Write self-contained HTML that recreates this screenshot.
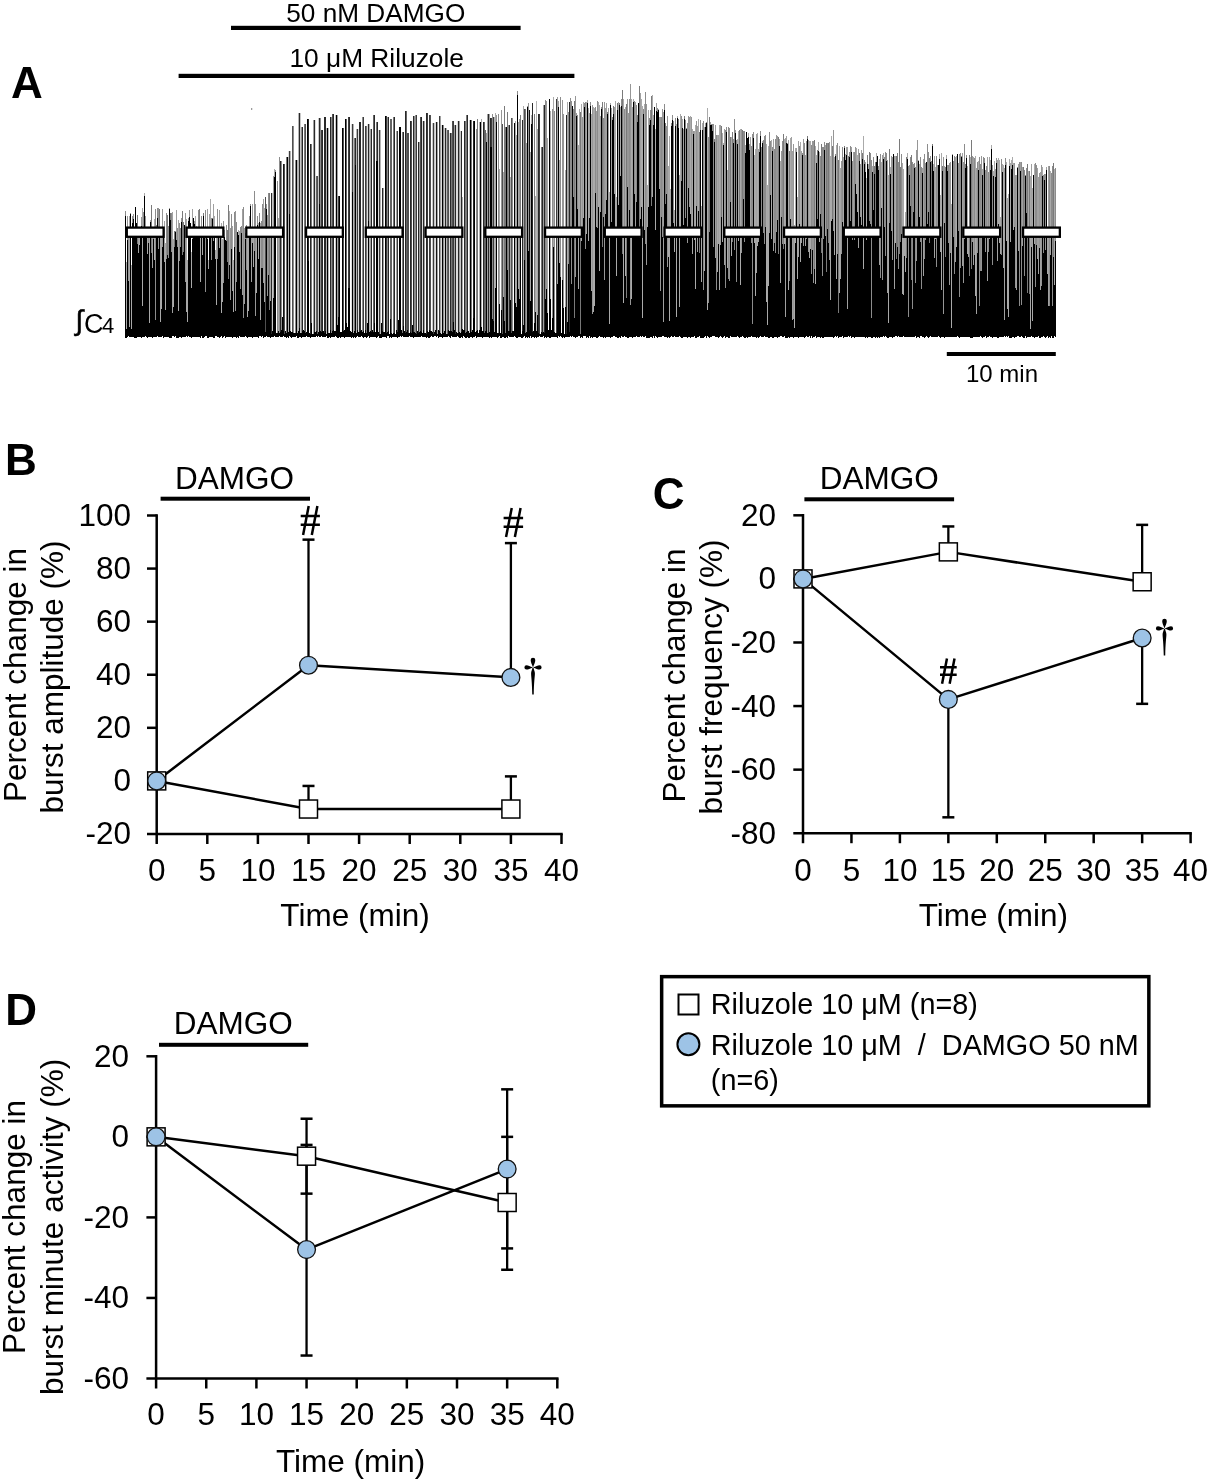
<!DOCTYPE html>
<html><head><meta charset="utf-8"><title>Figure</title>
<style>html,body{margin:0;padding:0;background:#fff;width:1210px;height:1481px;overflow:hidden}svg{display:block;will-change:transform}</style>
</head><body>
<svg width="1210" height="1481" viewBox="0 0 1210 1481" font-family='"Liberation Sans", sans-serif'><rect width="1210" height="1481" fill="#fff"/><text x="375.80" y="21.50" font-size="26.2" text-anchor="middle" font-weight="normal" >50 nM DAMGO</text><rect x="231" y="25.8" width="289.6" height="4.2" fill="#000"/><text x="376.70" y="66.60" font-size="26.3" text-anchor="middle" font-weight="normal" >10 μM Riluzole</text><rect x="178.6" y="73.8" width="395.8" height="4.2" fill="#000"/><text x="11.00" y="97.80" font-size="44" text-anchor="start" font-weight="bold" >A</text><circle cx="251.7" cy="109" r="0.7" fill="#555"/><path d="M288.5 151.3V332.1M315.5 119.5V332.0M351.5 124.3V332.1M358.5 129.2V332.4M367.5 123.8V322.8M378.5 129.7V331.6M422.5 121.0V333.3M435.5 121.6V330.3M441.5 125.3V333.7M449.5 132.7V330.6M456.5 124.7V331.7M457.5 121.4V333.2" stroke="#dcdcdc" stroke-width="1" fill="none" shape-rendering="crispEdges"/><path d="M272.5 192.6V330.5M300.5 113.3V332.5M318.5 118.1V332.2M335.5 115.2V331.3M432.5 122.9V332.3M434.5 122.9V331.8M444.5 128.4V331.1M460.5 130.8V333.0M469.5 119.9V332.6" stroke="#c8c8c8" stroke-width="1" fill="none" shape-rendering="crispEdges"/><path d="M288.5 156.7V332.1M290.5 151.3V331.4M297.5 160.0V333.1M298.5 113.3V330.8M326.5 127.9V333.9M328.5 127.9V333.3M353.5 124.3V332.7M356.5 129.2V333.2M369.5 123.8V331.7M380.5 129.7V333.8M446.5 128.4V333.8M479.5 122.1V330.1M494.5 117.0V332.1M536.5 101.0V330.9" stroke="#b4b4b4" stroke-width="1" fill="none" shape-rendering="crispEdges"/><path d="M139.5 235.7V245.3M140.5 230.0V236.8M142.5 208.2V306.2M144.5 192.9V195.8M154.5 218.5V260.0M161.5 236.5V308.5M173.5 239.4V306.7M195.5 216.2V227.8M197.5 231.2V234.8M200.5 235.5V281.6M210.5 199.0V236.1M214.5 215.5V227.8M221.5 222.7V313.3M229.5 211.0V265.0M238.5 229.8V235.2M258.5 222.7V259.2M260.5 222.6V320.2M274.5 168.7V177.3M481.5 118.9V326.8M495.5 113.0V287.6M515.5 121.4V302.5M523.5 105.6V324.9M531.5 114.9V124.1M553.5 97.1V247.3M567.5 101.7V322.0M572.5 105.6V105.9M579.5 108.8V233.4M581.5 103.6V240.7M583.5 101.8V217.7M586.5 101.9V234.1M588.5 107.5V240.6M593.5 107.1V311.7M594.5 107.6V306.4M598.5 101.5V207.1M599.5 105.1V270.7M610.5 103.0V105.0M615.5 101.2V229.3M618.5 101.6V204.5M620.5 106.7V176.0M623.5 99.3V303.1M625.5 106.7V275.6M631.5 99.4V298.8M633.5 98.7V102.3M641.5 99.0V206.9M642.5 106.0V317.9M644.5 103.7V229.8M648.5 110.1V206.8M652.5 94.9V197.3M658.5 109.2V110.4M676.5 124.0V317.4M677.5 115.9V118.3M680.5 114.4V227.0M682.5 118.7V128.0M690.5 116.4V214.4M695.5 125.1V289.3M698.5 119.4V210.7M702.5 122.5V129.5M704.5 126.6V271.4M707.5 108.3V309.9M719.5 124.9V290.2M722.5 133.0V242.2M723.5 142.5V145.3M731.5 136.6V256.4M737.5 138.5V143.8M738.5 130.6V240.8M740.5 129.2V285.4M748.5 133.4V137.4M757.5 132.6V245.6M762.5 140.5V143.3M766.5 143.7V302.2M768.5 145.6V286.0M771.5 140.4V238.6M784.5 139.4V244.1M788.5 140.2V289.7M790.5 137.6V218.7M795.5 148.4V242.8M800.5 141.6V261.8M809.5 141.0V257.6M810.5 140.6V249.3M815.5 146.1V283.6M816.5 154.9V163.0M818.5 141.9V150.8M819.5 151.6V242.1M830.5 156.4V299.6M831.5 136.4V220.9M834.5 157.4V254.8M836.5 144.9V279.4M839.5 145.6V293.1M843.5 157.1V232.9M845.5 153.6V160.0M856.5 148.0V194.0M857.5 154.7V212.3M863.5 136.1V269.1M872.5 165.9V171.8M876.5 152.8V161.7M881.5 162.2V208.1M883.5 153.1V159.4M890.5 166.7V173.8M895.5 155.5V242.5M907.5 153.4V159.4M918.5 159.5V161.3M919.5 164.0V216.9M933.5 163.7V170.7M935.5 167.4V238.7M939.5 153.9V159.1M941.5 153.3V290.4M946.5 154.5V158.5M956.5 156.0V247.2M967.5 165.6V253.5M970.5 156.5V163.7M975.5 155.9V296.3M978.5 161.3V169.5M982.5 169.0V174.5M991.5 145.1V148.9M993.5 171.2V175.7M994.5 160.6V229.9M998.5 157.9V224.3M999.5 160.1V242.9M1002.5 164.2V172.4M1003.5 164.7V268.2M1006.5 161.9V240.8M1009.5 159.3V165.5M1010.5 163.0V241.6M1011.5 159.5V168.6M1012.5 157.1V165.2M1013.5 163.0V229.9M1028.5 171.0V238.4M1034.5 164.0V243.8M1042.5 166.9V175.9M1050.5 171.4V255.3M1054.5 168.6V285.0" stroke="#aaaaaa" stroke-width="1" fill="none" shape-rendering="crispEdges"/><path d="M126.5 262.4V328.5M129.5 215.7V327.3M131.5 265.1V329.1M147.5 236.7V253.7M149.5 228.8V323.2M160.5 227.5V322.0M165.5 243.3V309.8M178.5 220.3V310.7M186.5 219.0V311.8M187.5 259.9V321.8M191.5 251.6V287.8M202.5 227.2V255.3M208.5 259.8V268.8M215.5 249.6V258.7M216.5 226.6V304.5M222.5 239.4V301.9M233.5 260.0V312.0M247.5 228.7V317.0M248.5 235.0V310.7M253.5 237.1V266.5M256.5 232.8V292.8M264.5 208.3V302.4M270.5 228.2V300.8M278.5 218.4V331.0M462.5 197.0V328.6M499.5 168.5V303.8M503.5 172.2V297.4M510.5 177.4V299.9M516.5 134.9V306.9M518.5 121.5V289.2M530.5 151.6V300.9M535.5 196.0V312.3M537.5 129.1V315.3M547.5 138.1V313.0M550.5 110.8V298.9M559.5 159.5V262.6M565.5 169.8V307.0M578.5 145.3V288.7M591.5 114.1V291.2M609.5 192.1V324.2M616.5 197.4V275.9M647.5 184.9V227.4M655.5 128.7V230.1M668.5 165.7V257.2M669.5 136.1V320.8M670.5 189.2V235.9M674.5 209.7V251.8M679.5 175.1V307.4M692.5 128.8V253.6M701.5 206.4V281.6M717.5 135.4V272.3M727.5 169.6V267.8M754.5 154.8V242.6M755.5 149.4V296.1M767.5 185.0V325.2M780.5 161.3V283.1M794.5 224.6V327.9M797.5 196.6V278.6M840.5 167.8V278.6M866.5 178.0V240.3M888.5 174.6V323.1M902.5 163.4V294.2M903.5 169.4V295.1M904.5 233.8V256.0M905.5 211.7V272.1M940.5 195.0V251.9M951.5 203.7V327.7M968.5 229.0V257.2M1000.5 217.4V253.9M1007.5 198.3V308.6M1008.5 194.2V316.9M1030.5 175.9V329.2M1032.5 187.5V321.0M1047.5 233.5V274.0" stroke="#a8a8a8" stroke-width="1" fill="none" shape-rendering="crispEdges"/><path d="M138.5 233.0V253.4M146.5 229.8V238.2M150.5 219.8V221.9M152.5 227.4V268.3M164.5 220.8V262.3M169.5 207.6V208.8M172.5 212.2V312.8M176.5 210.1V240.4M192.5 208.7V239.4M204.5 230.0V238.2M207.5 209.4V239.2M209.5 213.5V233.3M213.5 204.4V240.7M219.5 210.0V247.7M224.5 230.2V237.3M232.5 225.5V291.1M239.5 231.3V252.4M242.5 209.2V294.7M244.5 228.4V304.2M251.5 233.5V281.5M252.5 204.4V242.9M263.5 198.6V283.1M273.5 175.6V297.9M313.5 119.5V333.9M337.5 115.2V325.0M370.5 128.6V331.0M383.5 188.4V332.2M396.5 131.1V330.2M419.5 142.2V331.7M424.5 121.0V333.4M437.5 121.6V333.5M440.5 115.8V332.9M454.5 124.7V330.2M459.5 121.4V331.7M486.5 132.6V141.9M487.5 113.7V332.6M489.5 113.7V332.0M526.5 143.0V332.3M543.5 104.7V331.6M557.5 96.6V283.9M558.5 101.4V107.1M587.5 100.1V103.1M589.5 113.1V218.1M596.5 110.8V227.1M600.5 116.3V211.7M605.5 108.4V214.0M606.5 103.4V199.6M608.5 108.3V234.6M611.5 107.7V221.9M614.5 107.0V194.2M632.5 106.5V226.8M635.5 102.0V229.7M638.5 102.8V103.3M640.5 92.8V218.9M656.5 102.9V111.0M659.5 117.3V189.1M663.5 112.3V321.9M683.5 128.5V224.7M694.5 131.4V240.3M697.5 125.9V251.7M705.5 122.9V126.7M710.5 122.4V125.1M715.5 124.5V257.8M718.5 134.5V243.9M720.5 125.2V244.6M724.5 129.4V264.7M745.5 145.2V153.2M750.5 136.6V228.3M756.5 133.8V273.0M758.5 149.2V242.3M773.5 139.0V251.0M779.5 138.9V146.3M785.5 137.9V316.6M786.5 136.3V143.2M787.5 143.2V144.2M791.5 136.9V230.9M792.5 150.6V319.7M796.5 148.3V152.0M798.5 140.9V256.9M801.5 151.1V243.4M805.5 155.2V246.4M825.5 145.1V235.7M846.5 147.2V154.9M847.5 147.4V309.0M851.5 147.2V152.3M853.5 151.9V230.3M858.5 148.7V247.8M861.5 150.3V224.7M865.5 162.2V171.6M868.5 164.1V169.0M879.5 159.2V264.9M887.5 160.1V293.1M894.5 156.4V288.9M922.5 168.0V173.1M923.5 158.5V276.1M934.5 155.5V257.9M944.5 166.2V223.2M952.5 154.3V154.7M955.5 156.9V261.9M962.5 153.2V265.8M973.5 157.0V265.1M976.5 167.7V314.1M987.5 156.5V280.8M989.5 156.7V239.2M990.5 159.7V169.6M997.5 159.5V260.6M1004.5 168.4V320.3M1016.5 174.8V290.1M1018.5 163.6V250.7M1020.5 162.1V170.5M1022.5 166.9V245.5M1031.5 163.7V247.0M1037.5 167.8V259.3M1038.5 176.8V274.2M1040.5 171.5V289.9M1046.5 167.0V170.4M1048.5 165.7V305.9" stroke="#a0a0a0" stroke-width="1" fill="none" shape-rendering="crispEdges"/><path d="M127.5 215.6V239.5M128.5 236.4V280.7M130.5 213.2V214.4M133.5 213.5V218.8M134.5 233.1V236.3M141.5 217.2V225.8M145.5 216.4V232.8M158.5 208.4V249.3M162.5 208.8V246.9M175.5 230.6V231.6M181.5 217.7V222.1M185.5 213.2V282.3M188.5 218.0V221.1M189.5 209.8V217.3M194.5 221.2V224.4M196.5 226.3V235.1M220.5 226.5V229.5M223.5 220.5V283.3M230.5 228.0V299.5M235.5 210.9V310.7M249.5 216.4V233.1M255.5 203.8V316.0M266.5 203.9V209.1M267.5 215.0V296.2M275.5 169.8V171.6M496.5 114.8V122.3M501.5 110.4V310.0M519.5 118.6V299.4M527.5 106.0V106.6M528.5 103.1V250.5M546.5 100.5V289.1M562.5 99.8V280.1M563.5 113.8V307.7M575.5 96.0V277.0M576.5 113.1V116.3M582.5 116.5V234.7M592.5 104.6V314.1M604.5 101.6V279.9M627.5 99.4V187.0M628.5 113.3V237.9M630.5 83.6V305.2M646.5 104.2V264.6M653.5 115.4V124.8M660.5 117.2V290.5M662.5 108.7V237.0M666.5 126.2V193.6M667.5 116.2V267.3M686.5 128.3V129.0M687.5 123.0V242.8M688.5 116.4V188.1M689.5 116.5V206.6M691.5 117.4V231.2M693.5 131.4V134.0M696.5 121.3V205.9M711.5 123.9V125.1M729.5 127.7V281.2M733.5 139.0V143.0M735.5 129.8V132.5M741.5 128.7V253.0M749.5 143.5V150.0M759.5 143.0V151.7M776.5 135.2V231.5M777.5 136.4V219.7M781.5 151.3V216.8M793.5 143.9V319.4M803.5 139.4V246.2M808.5 139.8V252.2M812.5 141.1V249.8M813.5 140.5V283.4M829.5 141.6V260.3M833.5 129.9V230.8M841.5 160.9V253.8M855.5 147.4V184.1M860.5 164.2V217.3M882.5 154.8V279.6M891.5 156.1V230.8M892.5 157.4V259.6M893.5 153.7V154.4M916.5 149.9V261.0M917.5 140.2V230.9M930.5 155.7V162.1M937.5 165.0V230.0M943.5 156.8V314.3M947.5 165.2V171.4M949.5 163.2V285.0M950.5 162.3V253.2M963.5 162.0V282.6M972.5 156.0V241.6M981.5 155.6V271.1M985.5 170.0V252.2M995.5 169.3V176.6M996.5 157.6V163.1M1014.5 163.1V227.4M1015.5 175.1V287.9M1039.5 173.3V247.6M1041.5 164.6V285.6M1045.5 173.5V249.7" stroke="#969696" stroke-width="1" fill="none" shape-rendering="crispEdges"/><path d="M125.5 211.0V215.9M132.5 215.9V223.3M143.5 211.7V236.7M148.5 232.8V242.6M155.5 208.6V320.1M156.5 225.3V233.7M157.5 208.3V217.9M166.5 212.5V258.5M168.5 225.6V258.3M171.5 212.6V252.4M177.5 228.3V247.0M179.5 223.3V260.7M180.5 227.6V247.3M198.5 210.4V234.8M201.5 215.6V233.3M205.5 209.9V291.7M211.5 217.6V260.4M217.5 208.8V258.7M226.5 225.2V241.1M231.5 214.4V249.2M234.5 211.8V246.6M236.5 221.6V282.3M240.5 226.9V289.1M241.5 226.1V233.0M243.5 207.3V318.3M245.5 232.8V239.0M246.5 225.1V269.9M250.5 204.4V206.4M254.5 191.3V250.5M257.5 216.3V225.1M259.5 212.6V221.9M261.5 221.4V267.7M262.5 203.9V268.1M268.5 192.7V275.1M277.5 180.6V332.6M279.5 156.8V333.0M281.5 160.8V330.1M293.5 125.7V333.3M295.5 160.0V332.7M301.5 126.5V332.7M320.5 118.1V330.5M331.5 116.9V332.8M362.5 116.9V332.1M387.5 116.7V332.1M414.5 116.2V331.5M415.5 115.4V332.8M443.5 125.3V333.2M476.5 128.5V331.0M492.5 113.7V319.4M498.5 113.6V333.2M508.5 125.3V331.2M512.5 118.2V330.6M517.5 91.2V95.3M545.5 99.7V298.9M552.5 108.9V317.8M554.5 110.9V331.7M560.5 97.0V276.6M568.5 112.3V264.2M570.5 97.6V234.3M571.5 100.5V283.9M573.5 108.9V196.5M577.5 115.1V208.9M584.5 103.4V107.1M585.5 102.3V248.6M590.5 102.3V105.5M595.5 106.6V192.6M597.5 101.2V227.8M601.5 107.0V109.2M603.5 117.6V217.3M612.5 116.8V119.8M621.5 99.4V105.5M624.5 109.1V227.7M629.5 99.4V209.8M634.5 100.6V193.8M636.5 105.0V201.7M643.5 109.2V113.5M645.5 92.0V243.6M649.5 118.0V124.6M650.5 110.3V119.7M657.5 108.2V111.7M661.5 116.8V217.0M664.5 104.4V110.1M671.5 122.5V126.2M672.5 114.6V120.4M673.5 121.1V223.1M675.5 117.6V125.8M681.5 115.7V181.2M685.5 119.5V217.8M700.5 120.0V130.0M703.5 121.4V289.9M706.5 122.0V122.5M708.5 137.1V303.3M712.5 124.0V131.0M713.5 123.8V247.4M716.5 135.4V290.2M725.5 129.5V288.2M726.5 127.4V131.9M728.5 126.8V278.5M734.5 118.7V250.0M736.5 139.6V281.8M743.5 130.8V199.1M744.5 130.7V242.1M746.5 131.5V131.9M751.5 146.1V243.2M752.5 134.2V323.8M753.5 132.4V138.1M760.5 130.6V135.5M761.5 147.0V230.6M763.5 140.4V232.7M764.5 136.1V244.4M765.5 135.0V226.9M769.5 131.6V232.6M770.5 141.2V195.2M772.5 146.5V151.2M774.5 149.4V242.5M775.5 138.9V252.6M782.5 140.8V244.2M799.5 145.6V224.3M802.5 153.1V154.5M804.5 142.9V233.6M806.5 141.1V238.5M811.5 145.3V273.6M820.5 156.4V213.7M822.5 146.7V275.9M823.5 147.0V239.1M824.5 142.1V150.3M827.5 142.5V228.8M835.5 153.8V156.0M837.5 142.9V253.7M842.5 146.8V222.2M849.5 151.8V157.1M850.5 145.6V220.9M852.5 161.3V240.3M854.5 152.4V240.4M870.5 153.0V224.4M871.5 159.6V318.1M873.5 157.1V209.6M878.5 166.2V170.0M880.5 154.0V277.5M884.5 156.6V227.4M885.5 151.9V255.9M886.5 153.0V160.6M898.5 161.8V268.7M901.5 154.0V233.8M908.5 166.2V317.4M909.5 164.6V174.5M910.5 157.1V205.6M912.5 162.3V309.1M913.5 164.1V211.7M914.5 163.3V167.5M915.5 166.9V283.0M920.5 157.4V241.6M921.5 166.6V289.4M924.5 153.5V258.5M925.5 162.8V239.6M927.5 144.4V223.6M928.5 152.1V212.3M936.5 156.3V266.5M938.5 164.9V165.3M948.5 164.6V242.7M953.5 161.0V236.9M954.5 155.9V274.2M958.5 163.4V231.1M959.5 153.6V297.2M960.5 153.2V268.2M961.5 156.2V156.8M964.5 144.3V238.7M966.5 154.9V157.7M974.5 157.6V255.1M977.5 162.1V253.2M979.5 157.3V306.4M980.5 163.6V270.7M983.5 157.3V237.9M984.5 158.3V163.2M986.5 166.0V235.1M988.5 171.6V252.0M992.5 164.8V265.2M1001.5 159.0V254.5M1005.5 158.4V165.2M1017.5 166.7V168.2M1019.5 162.0V306.4M1021.5 161.5V304.7M1024.5 170.2V275.7M1025.5 175.1V176.3M1026.5 167.5V212.7M1033.5 175.0V175.3M1035.5 163.4V286.5M1036.5 165.4V244.9M1043.5 174.9V253.2M1044.5 174.0V180.1M1049.5 165.8V305.5M1051.5 173.3V237.0M1052.5 165.9V305.7M1055.5 167.6V241.1" stroke="#8c8c8c" stroke-width="1" fill="none" shape-rendering="crispEdges"/><path d="M137.5 214.6V243.5M151.5 205.3V253.3M153.5 230.9V239.1M159.5 208.7V232.1M167.5 215.2V255.1M170.5 212.5V220.3M174.5 231.0V246.5M182.5 211.0V255.0M183.5 222.2V252.2M199.5 208.8V236.2M203.5 213.4V215.5M206.5 234.0V236.0M212.5 218.0V219.1M227.5 229.9V262.3M228.5 204.5V279.2M269.5 193.4V309.8M477.5 119.1V330.1M504.5 106.2V321.2M507.5 112.3V270.4M520.5 115.2V229.1M534.5 113.8V323.0M549.5 98.6V99.4M574.5 100.6V318.2M602.5 102.4V246.9M607.5 111.6V113.6M613.5 106.3V113.9M617.5 102.8V109.5M619.5 102.9V104.8M622.5 89.5V254.4M626.5 104.4V297.8M637.5 114.6V121.9M639.5 86.3V238.3M651.5 96.2V205.7M654.5 106.8V107.0M665.5 122.8V203.7M678.5 118.9V128.3M684.5 115.5V118.9M699.5 131.6V252.6M709.5 117.4V231.8M714.5 138.7V142.2M721.5 125.5V217.2M730.5 136.9V202.4M732.5 131.7V242.3M739.5 130.0V230.0M742.5 129.5V230.5M778.5 137.4V253.9M783.5 134.4V249.2M789.5 151.3V281.4M807.5 136.0V139.2M814.5 140.3V269.3M817.5 150.2V218.7M821.5 143.7V253.2M826.5 142.8V272.4M828.5 143.0V243.3M832.5 146.1V218.7M838.5 159.8V312.5M844.5 146.4V148.3M848.5 155.8V235.3M859.5 152.9V160.6M862.5 153.4V159.0M864.5 159.9V163.5M867.5 154.7V164.3M869.5 151.5V220.6M874.5 165.9V174.4M875.5 161.8V236.9M877.5 155.5V155.8M889.5 149.4V222.9M896.5 156.4V259.3M897.5 152.8V246.5M899.5 139.2V254.0M900.5 167.3V242.4M906.5 156.6V257.7M911.5 155.2V280.4M926.5 162.0V162.3M929.5 158.1V242.8M931.5 161.3V234.7M932.5 144.2V146.2M942.5 165.9V170.8M945.5 167.4V257.3M965.5 163.6V168.4M969.5 154.7V276.2M971.5 139.6V268.7M1023.5 167.2V226.7M1027.5 163.5V292.7M1029.5 171.4V294.3M1053.5 162.5V256.9" stroke="#7a7a7a" stroke-width="1" fill="none" shape-rendering="crispEdges"/><path d="M286.5 156.7V332.6M304.5 124.2V330.6M311.5 143.9V323.3M354.5 137.8V330.6M366.5 125.9V332.5M376.5 122.2V325.4M393.5 116.8V333.2M402.5 132.4V333.2M451.5 132.7V331.0M465.5 120.8V333.3M466.5 115.1V331.8M471.5 119.9V332.2M505.5 126.7V332.7M525.5 109.0V332.7M541.5 146.8V332.1M580.5 111.9V333.7" stroke="#787878" stroke-width="1" fill="none" shape-rendering="crispEdges"/><path d="M316.5 176.4V330.7M346.5 118.7V322.8M373.5 114.9V331.7M390.5 119.2V318.5M391.5 119.2V332.8M406.5 110.5V331.9M447.5 129.9V333.9M484.5 122.2V333.4M485.5 129.8V331.2" stroke="#646464" stroke-width="1" fill="none" shape-rendering="crispEdges"/><path d="M265.5 196.8V332.0M284.5 164.0V333.7M292.5 125.7V331.5M305.5 124.2V333.2M317.5 176.4V333.9M332.5 113.9V331.4M343.5 127.6V331.1M407.5 132.8V330.2M408.5 132.8V333.3M411.5 120.7V333.1M420.5 117.1V331.4M430.5 115.0V330.5M448.5 129.9V330.1M452.5 120.9V331.6M502.5 123.7V333.5M511.5 118.2V332.5M524.5 109.0V332.4" stroke="#505050" stroke-width="1" fill="none" shape-rendering="crispEdges"/><path d="M289.5 151.3V333.6M321.5 129.5V331.8M338.5 196.1V317.3M348.5 117.2V331.5M352.5 124.3V333.6M357.5 129.2V330.2M363.5 116.9V330.9M365.5 125.9V330.1M379.5 129.7V333.6M386.5 115.9V333.2M397.5 131.1V331.5M416.5 115.4V333.8M427.5 113.2V330.7M429.5 115.0V330.2M433.5 122.9V333.8M439.5 115.8V331.0M453.5 120.9V322.4M491.5 117.6V331.2M493.5 117.0V332.3M539.5 114.0V333.5M556.5 98.9V332.9" stroke="#3c3c3c" stroke-width="1" fill="none" shape-rendering="crispEdges"/><path d="M271.5 192.6V333.6M280.5 160.8V332.4M299.5 113.3V328.1M302.5 126.5V330.5M308.5 118.6V330.1M310.5 143.9V333.9M314.5 119.5V331.6M319.5 118.1V332.6M322.5 129.5V331.2M324.5 117.2V333.4M325.5 117.2V330.9M330.5 116.9V330.2M333.5 113.9V330.4M349.5 117.2V331.5M355.5 137.8V333.0M359.5 121.6V331.8M360.5 121.6V331.1M368.5 123.8V330.6M371.5 128.6V332.0M374.5 114.9V323.2M377.5 122.2V324.3M382.5 188.4V331.4M388.5 116.7V331.4M394.5 116.8V333.0M403.5 132.4V325.6M405.5 110.5V333.2M410.5 120.7V331.9M413.5 116.2V332.1M418.5 142.2V333.1M421.5 117.1V332.1M423.5 121.0V330.0M426.5 113.2V333.7M445.5 128.4V332.2M450.5 132.7V331.2M455.5 124.7V333.5M458.5 121.4V333.4M461.5 130.8V331.6M464.5 120.8V330.1M467.5 115.1V331.1M473.5 121.3V318.1M483.5 122.2V330.6M488.5 113.7V333.2M490.5 117.6V333.9M509.5 125.3V331.4M522.5 120.0V331.3M532.5 103.2V331.8M538.5 114.0V333.1M542.5 146.8V332.9M544.5 104.7V332.7M566.5 115.1V334.0M569.5 102.0V332.3" stroke="#282828" stroke-width="1" fill="none" shape-rendering="crispEdges"/><path d="M283.5 164.0V331.2M436.5 121.6V332.8M529.5 110.3V330.3" stroke="#141414" stroke-width="1" fill="none" shape-rendering="crispEdges"/><path d="M287.5 156.7V333.7M296.5 160.0V332.6M307.5 118.6V333.4M327.5 127.9V332.3M336.5 115.2V330.3M339.5 196.1V332.2M342.5 127.6V330.8M345.5 118.7V333.1M385.5 115.9V333.6M399.5 126.9V332.4M400.5 126.9V332.5M442.5 125.3V330.5M470.5 119.9V332.6M474.5 121.3V332.9M480.5 122.1V333.8M506.5 126.7V333.6M514.5 123.4V330.6" stroke="#000000" stroke-width="1" fill="none" shape-rendering="crispEdges"/><path d="M125.5 215.9V337.7M126.5 328.5V337.7M127.5 239.5V337.3M128.5 280.7V336.4M129.5 327.3V336.8M130.5 214.4V337.1M131.5 329.1V336.7M132.5 223.3V336.6M133.5 218.8V337.0M134.5 236.3V337.5M135.5 206.6V337.5M136.5 222.5V337.6M137.5 243.5V336.7M138.5 253.4V336.8M139.5 245.3V336.5M140.5 236.8V336.9M141.5 225.8V337.8M142.5 306.2V336.8M143.5 236.7V336.8M144.5 195.8V337.0M145.5 232.8V336.2M146.5 238.2V336.9M147.5 253.7V337.5M148.5 242.6V336.5M149.5 323.2V337.3M150.5 221.9V337.2M151.5 253.3V336.8M152.5 268.3V337.5M153.5 239.1V337.0M154.5 260.0V337.0M155.5 320.1V336.7M156.5 233.7V337.0M157.5 217.9V336.3M158.5 249.3V337.4M159.5 232.1V336.5M160.5 322.0V336.7M161.5 308.5V337.3M162.5 246.9V336.4M163.5 231.3V337.6M164.5 262.3V337.2M165.5 309.8V337.1M166.5 258.5V336.9M167.5 255.1V336.7M168.5 258.3V336.8M169.5 208.8V337.7M170.5 220.3V337.7M171.5 252.4V337.7M172.5 312.8V336.4M173.5 306.7V336.4M174.5 246.5V337.0M175.5 231.6V336.3M176.5 240.4V337.6M177.5 247.0V337.8M178.5 310.7V337.5M179.5 260.7V336.8M180.5 247.3V336.9M181.5 222.1V337.5M182.5 255.0V336.6M183.5 252.2V336.6M184.5 224.8V336.6M185.5 282.3V336.5M186.5 311.8V336.4M187.5 321.8V337.4M188.5 221.1V336.3M189.5 217.3V337.1M190.5 223.1V337.0M191.5 287.8V337.6M192.5 239.4V336.8M193.5 217.8V336.5M194.5 224.4V336.7M195.5 227.8V337.2M196.5 235.1V337.4M197.5 234.8V337.4M198.5 234.8V336.8M199.5 236.2V337.1M200.5 281.6V337.6M201.5 233.3V336.4M202.5 255.3V337.7M203.5 215.5V337.7M204.5 238.2V337.4M205.5 291.7V336.3M206.5 236.0V336.4M207.5 239.2V337.7M208.5 268.8V337.5M209.5 233.3V336.5M210.5 236.1V336.9M211.5 260.4V336.6M212.5 219.1V337.0M213.5 240.7V337.6M214.5 227.8V337.6M215.5 258.7V336.2M216.5 304.5V336.4M217.5 258.7V337.4M218.5 232.4V336.5M219.5 247.7V337.7M220.5 229.5V336.9M221.5 313.3V336.3M222.5 301.9V337.7M223.5 283.3V337.2M224.5 237.3V336.3M225.5 239.6V337.7M226.5 241.1V336.9M227.5 262.3V337.2M228.5 279.2V337.0M229.5 265.0V336.5M230.5 299.5V337.3M231.5 249.2V337.1M232.5 291.1V337.7M233.5 312.0V336.8M234.5 246.6V337.3M235.5 310.7V336.8M236.5 282.3V337.5M237.5 231.7V336.5M238.5 235.2V337.6M239.5 252.4V336.3M240.5 289.1V337.3M241.5 233.0V336.7M242.5 294.7V336.8M243.5 318.3V337.2M244.5 304.2V336.9M245.5 239.0V336.4M246.5 269.9V336.5M247.5 317.0V337.8M248.5 310.7V336.8M249.5 233.1V336.6M250.5 206.4V336.7M251.5 281.5V336.5M252.5 242.9V337.5M253.5 266.5V337.3M254.5 250.5V336.6M255.5 316.0V336.5M256.5 292.8V337.1M257.5 225.1V336.6M258.5 259.2V337.7M259.5 221.9V336.2M260.5 320.2V336.2M261.5 267.7V336.9M262.5 268.1V336.3M263.5 283.1V337.7M264.5 302.4V337.4M265.5 332.0V337.0M266.5 209.1V336.3M267.5 296.2V337.1M268.5 275.1V337.3M269.5 309.8V337.3M270.5 300.8V337.7M271.5 333.6V336.9M272.5 330.5V337.3M273.5 297.9V336.8M274.5 177.3V336.4M275.5 171.6V336.9M276.5 333.3V337.3M277.5 332.6V337.3M278.5 331.0V336.8M279.5 333.0V336.3M280.5 332.4V337.0M281.5 330.1V336.9M282.5 316.9V336.9M283.5 331.2V336.2M284.5 333.7V336.6M285.5 330.7V336.8M286.5 332.6V337.7M287.5 333.7V336.5M288.5 332.1V337.7M289.5 214.1V333.6M289.5 333.6V336.3M290.5 331.4V336.7M291.5 331.9V337.5M292.5 331.5V336.5M293.5 333.3V337.3M294.5 332.5V336.7M295.5 332.7V337.1M296.5 332.6V336.4M297.5 333.1V337.7M298.5 330.8V337.7M299.5 328.1V336.5M300.5 332.5V336.6M301.5 332.7V337.8M302.5 330.5V337.3M303.5 330.1V336.6M304.5 330.6V337.4M305.5 333.2V336.7M306.5 332.3V336.4M307.5 260.5V333.4M307.5 333.4V337.4M308.5 260.5V330.1M308.5 330.1V336.9M309.5 332.9V337.1M310.5 333.9V337.5M311.5 323.3V337.2M312.5 333.6V337.0M313.5 333.9V337.0M314.5 331.6V337.1M315.5 332.0V337.4M316.5 330.7V336.3M317.5 333.9V337.2M318.5 332.2V336.4M319.5 204.4V332.6M319.5 332.6V336.7M320.5 330.5V336.7M321.5 331.8V336.2M322.5 331.2V337.4M323.5 330.7V337.1M324.5 333.4V337.1M325.5 330.9V337.0M326.5 333.9V336.2M327.5 332.3V337.5M328.5 333.3V337.5M329.5 333.2V337.1M330.5 330.2V337.5M331.5 332.8V336.7M332.5 331.4V337.1M333.5 330.4V336.7M334.5 330.5V336.8M335.5 331.3V336.2M336.5 330.3V336.8M337.5 325.0V337.7M338.5 317.3V337.7M339.5 332.2V337.1M340.5 332.4V337.5M341.5 332.0V337.2M342.5 330.8V337.0M343.5 331.1V337.3M344.5 330.4V337.5M345.5 333.1V336.9M346.5 322.8V336.6M347.5 327.4V337.3M348.5 288.3V331.5M348.5 331.5V337.0M349.5 288.3V331.5M349.5 331.5V337.2M350.5 330.5V337.1M351.5 332.1V337.6M352.5 191.7V333.6M352.5 333.6V336.9M353.5 332.7V337.6M354.5 330.6V337.2M355.5 164.7V333.0M355.5 333.0V337.5M356.5 333.2V336.8M357.5 330.2V336.4M358.5 332.4V337.1M359.5 331.8V337.3M360.5 331.1V336.8M361.5 330.2V336.3M362.5 332.1V336.5M363.5 330.9V337.5M364.5 332.9V336.9M365.5 330.1V336.9M366.5 332.5V337.7M367.5 322.8V337.3M368.5 221.4V330.6M368.5 330.6V336.4M369.5 331.7V337.5M370.5 331.0V337.0M371.5 332.0V337.3M372.5 330.2V336.6M373.5 331.7V336.9M374.5 323.2V336.5M375.5 332.4V337.2M376.5 161.3V325.4M376.5 325.4V337.5M377.5 161.3V324.3M377.5 324.3V337.3M378.5 331.6V336.3M379.5 333.6V337.6M380.5 333.8V337.5M381.5 322.9V337.8M382.5 331.4V336.6M383.5 332.2V337.3M384.5 332.4V336.8M385.5 333.6V337.1M386.5 333.2V337.5M387.5 332.1V336.4M388.5 331.4V336.4M389.5 333.9V337.5M390.5 318.5V337.1M391.5 332.8V337.8M392.5 333.5V337.4M393.5 333.2V337.0M394.5 333.0V336.5M395.5 333.7V336.5M396.5 330.2V336.9M397.5 331.5V337.7M398.5 319.5V337.2M399.5 332.4V337.3M400.5 332.5V336.4M401.5 330.0V336.6M402.5 333.2V336.3M403.5 325.6V336.7M404.5 330.9V336.9M405.5 333.2V336.5M406.5 331.9V337.0M407.5 330.2V336.6M408.5 333.3V337.1M409.5 333.2V336.2M410.5 331.9V337.0M411.5 333.1V336.7M412.5 324.8V337.3M413.5 332.1V337.7M414.5 331.5V336.5M415.5 332.8V337.2M416.5 333.8V336.8M417.5 331.0V336.7M418.5 333.1V337.3M419.5 331.7V336.8M420.5 331.4V336.9M421.5 332.1V336.3M422.5 333.3V337.3M423.5 330.0V337.1M424.5 333.4V336.7M425.5 332.9V337.2M426.5 333.7V337.8M427.5 330.7V337.3M428.5 331.6V337.5M429.5 330.2V337.6M430.5 330.5V337.0M431.5 331.2V336.4M432.5 332.3V337.2M433.5 333.8V337.0M434.5 331.8V336.4M435.5 330.3V336.4M436.5 332.8V337.3M437.5 333.5V336.2M438.5 330.0V337.6M439.5 331.0V336.9M440.5 332.9V336.6M441.5 333.7V336.5M442.5 330.5V337.7M443.5 333.2V337.1M444.5 331.1V336.9M445.5 237.8V332.2M445.5 332.2V336.6M446.5 333.8V336.7M447.5 333.9V336.6M448.5 330.1V336.4M449.5 330.6V337.2M450.5 331.2V337.5M451.5 331.0V336.3M452.5 331.6V337.0M453.5 322.4V337.4M454.5 330.2V337.2M455.5 333.5V336.8M456.5 331.7V337.4M457.5 333.2V336.2M458.5 333.4V337.1M459.5 331.7V337.6M460.5 333.0V337.6M461.5 331.6V337.0M462.5 328.6V337.8M463.5 330.0V336.4M464.5 330.1V336.7M465.5 333.3V337.5M466.5 331.8V337.6M467.5 331.1V336.9M468.5 331.0V337.6M469.5 332.6V337.5M470.5 244.9V332.6M470.5 332.6V336.7M471.5 332.2V336.9M472.5 330.3V337.6M473.5 318.1V336.8M474.5 332.9V337.3M475.5 332.3V336.2M476.5 331.0V337.5M477.5 330.1V336.6M478.5 332.5V337.3M479.5 330.1V336.5M480.5 333.8V337.3M481.5 326.8V337.2M482.5 331.2V337.6M483.5 330.6V336.9M484.5 333.4V337.4M485.5 331.2V337.1M486.5 141.9V336.9M487.5 332.6V337.2M488.5 333.2V336.5M489.5 332.0V337.8M490.5 147.1V333.9M490.5 333.9V336.6M491.5 147.1V331.2M491.5 331.2V337.5M492.5 319.4V336.9M493.5 320.6V332.3M493.5 332.3V337.2M494.5 332.1V337.3M495.5 287.6V337.1M496.5 122.3V336.7M497.5 333.0V337.7M498.5 333.2V337.2M499.5 303.8V336.4M500.5 333.3V337.7M501.5 310.0V337.5M502.5 333.5V337.1M503.5 297.4V336.6M504.5 321.2V337.8M505.5 332.7V337.5M506.5 196.6V333.6M506.5 333.6V337.3M507.5 270.4V337.5M508.5 331.2V336.4M509.5 331.4V336.8M510.5 299.9V336.5M511.5 332.5V337.3M512.5 330.6V337.4M513.5 331.0V336.6M514.5 330.6V336.2M515.5 302.5V337.4M516.5 306.9V337.7M517.5 95.3V337.5M518.5 289.2V336.9M519.5 299.4V336.9M520.5 229.1V336.9M521.5 334.0V337.8M522.5 331.3V337.8M523.5 324.9V336.5M524.5 259.5V332.4M524.5 332.4V336.3M525.5 332.7V337.6M526.5 332.3V336.8M527.5 106.6V337.6M528.5 250.5V336.7M529.5 330.3V337.5M530.5 300.9V336.2M531.5 124.1V337.7M532.5 331.8V336.7M533.5 331.4V337.0M534.5 323.0V337.5M535.5 312.3V336.7M536.5 330.9V337.7M537.5 315.3V336.8M538.5 333.1V337.2M539.5 333.5V336.4M540.5 334.0V336.8M541.5 332.1V337.0M542.5 332.9V337.3M543.5 331.6V336.2M544.5 332.7V337.5M545.5 298.9V337.0M546.5 289.1V337.5M547.5 313.0V337.4M548.5 330.4V336.5M549.5 99.4V337.5M550.5 298.9V337.6M551.5 330.2V336.7M552.5 317.8V336.8M553.5 247.3V337.2M554.5 331.7V336.5M555.5 332.6V337.2M556.5 332.9V336.6M557.5 283.9V337.7M558.5 107.1V336.3M559.5 262.6V337.1M560.5 276.6V336.2M561.5 332.8V337.4M562.5 280.1V337.5M563.5 307.7V337.0M564.5 333.9V337.5M565.5 307.0V336.8M566.5 334.0V336.5M567.5 322.0V337.0M568.5 264.2V336.7M569.5 332.3V337.4M570.5 234.3V336.4M571.5 283.9V336.8M572.5 105.9V336.3M573.5 196.5V337.3M574.5 318.2V337.1M575.5 277.0V337.6M576.5 116.3V336.7M577.5 208.9V336.9M578.5 288.7V336.4M579.5 233.4V336.2M580.5 333.7V337.7M581.5 240.7V336.7M582.5 234.7V337.6M583.5 217.7V336.3M584.5 107.1V336.2M585.5 248.6V336.4M586.5 234.1V337.6M587.5 103.1V336.9M588.5 240.6V337.7M589.5 218.1V336.3M590.5 105.5V337.5M591.5 291.2V336.7M592.5 314.1V337.7M593.5 311.7V337.0M594.5 306.4V337.4M595.5 192.6V337.2M596.5 227.1V337.7M597.5 227.8V337.7M598.5 207.1V336.6M599.5 270.7V336.3M600.5 211.7V336.5M601.5 109.2V337.1M602.5 246.9V336.9M603.5 217.3V337.6M604.5 279.9V337.1M605.5 214.0V337.6M606.5 199.6V337.3M607.5 113.6V336.7M608.5 234.6V337.3M609.5 324.2V336.7M610.5 105.0V337.6M611.5 221.9V336.6M612.5 119.8V336.8M613.5 113.9V336.4M614.5 194.2V336.3M615.5 229.3V336.8M616.5 275.9V336.8M617.5 109.5V337.5M618.5 204.5V337.6M619.5 104.8V336.5M620.5 176.0V337.7M621.5 105.5V336.4M622.5 254.4V336.7M623.5 303.1V336.8M624.5 227.7V336.4M625.5 275.6V336.6M626.5 297.8V336.8M627.5 187.0V337.6M628.5 237.9V337.6M629.5 209.8V336.5M630.5 305.2V336.5M631.5 298.8V336.8M632.5 226.8V337.7M633.5 102.3V337.4M634.5 193.8V336.7M635.5 229.7V337.3M636.5 201.7V336.4M637.5 121.9V336.5M638.5 103.3V336.6M639.5 238.3V336.9M640.5 218.9V336.3M641.5 206.9V337.4M642.5 317.9V336.3M643.5 113.5V336.7M644.5 229.8V337.2M645.5 243.6V336.4M646.5 264.6V337.6M647.5 227.4V337.7M648.5 206.8V337.7M649.5 124.6V337.7M650.5 119.7V336.7M651.5 205.7V336.6M652.5 197.3V337.5M653.5 124.8V336.4M654.5 107.0V337.8M655.5 230.1V336.3M656.5 111.0V337.3M657.5 111.7V337.6M658.5 110.4V336.7M659.5 189.1V337.0M660.5 290.5V336.9M661.5 217.0V336.6M662.5 237.0V336.4M663.5 321.9V336.4M664.5 110.1V336.6M665.5 203.7V337.4M666.5 193.6V337.4M667.5 267.3V337.5M668.5 257.2V337.4M669.5 320.8V337.6M670.5 235.9V337.4M671.5 126.2V336.3M672.5 120.4V336.6M673.5 223.1V336.6M674.5 251.8V336.3M675.5 125.8V336.5M676.5 317.4V337.3M677.5 118.3V336.6M678.5 128.3V337.3M679.5 307.4V336.3M680.5 227.0V337.1M681.5 181.2V337.6M682.5 128.0V337.8M683.5 224.7V337.4M684.5 118.9V336.8M685.5 217.8V337.2M686.5 129.0V336.5M687.5 242.8V337.7M688.5 188.1V336.9M689.5 206.6V337.1M690.5 214.4V337.5M691.5 231.2V337.3M692.5 253.6V337.0M693.5 134.0V336.9M694.5 240.3V336.3M695.5 289.3V337.7M696.5 205.9V337.8M697.5 251.7V336.7M698.5 210.7V337.4M699.5 252.6V336.2M700.5 130.0V337.6M701.5 281.6V337.7M702.5 129.5V337.7M703.5 289.9V337.5M704.5 271.4V337.2M705.5 126.7V336.3M706.5 122.5V337.5M707.5 309.9V336.3M708.5 303.3V336.7M709.5 231.8V337.8M710.5 125.1V337.1M711.5 125.1V337.0M712.5 131.0V336.4M713.5 247.4V336.3M714.5 142.2V336.4M715.5 257.8V336.5M716.5 290.2V336.9M717.5 272.3V336.9M718.5 243.9V337.5M719.5 290.2V337.4M720.5 244.6V336.2M721.5 217.2V337.4M722.5 242.2V337.6M723.5 145.3V336.9M724.5 264.7V336.2M725.5 288.2V337.8M726.5 131.9V337.0M727.5 267.8V337.2M728.5 278.5V337.7M729.5 281.2V337.7M730.5 202.4V336.2M731.5 256.4V336.9M732.5 242.3V336.6M733.5 143.0V337.2M734.5 250.0V337.0M735.5 132.5V337.0M736.5 281.8V337.0M737.5 143.8V336.3M738.5 240.8V336.7M739.5 230.0V337.5M740.5 285.4V336.5M741.5 253.0V337.3M742.5 230.5V336.3M743.5 199.1V336.8M744.5 242.1V337.8M745.5 153.2V337.8M746.5 131.9V337.2M747.5 138.4V337.8M748.5 137.4V337.4M749.5 150.0V337.0M750.5 228.3V336.5M751.5 243.2V336.2M752.5 323.8V337.3M753.5 138.1V337.4M754.5 242.6V336.5M755.5 296.1V337.2M756.5 273.0V337.6M757.5 245.6V337.0M758.5 242.3V337.7M759.5 151.7V336.6M760.5 135.5V336.2M761.5 230.6V337.1M762.5 143.3V336.6M763.5 232.7V337.2M764.5 244.4V336.3M765.5 226.9V337.2M766.5 302.2V337.4M767.5 325.2V336.7M768.5 286.0V337.5M769.5 232.6V337.7M770.5 195.2V337.4M771.5 238.6V337.0M772.5 151.2V337.5M773.5 251.0V337.5M774.5 242.5V337.4M775.5 252.6V337.0M776.5 231.5V337.1M777.5 219.7V337.6M778.5 253.9V336.7M779.5 146.3V337.4M780.5 283.1V336.2M781.5 216.8V336.2M782.5 244.2V336.7M783.5 249.2V336.6M784.5 244.1V336.3M785.5 316.6V337.5M786.5 143.2V337.6M787.5 144.2V337.7M788.5 289.7V336.6M789.5 281.4V337.5M790.5 218.7V337.4M791.5 230.9V336.6M792.5 319.7V336.9M793.5 319.4V337.7M794.5 327.9V336.5M795.5 242.8V336.5M796.5 152.0V337.0M797.5 278.6V336.9M798.5 256.9V337.8M799.5 224.3V337.2M800.5 261.8V336.8M801.5 243.4V336.6M802.5 154.5V337.0M803.5 246.2V336.5M804.5 233.6V337.8M805.5 246.4V336.9M806.5 238.5V336.3M807.5 139.2V336.8M808.5 252.2V337.4M809.5 257.6V336.2M810.5 249.3V337.8M811.5 273.6V336.2M812.5 249.8V337.6M813.5 283.4V337.0M814.5 269.3V336.6M815.5 283.6V336.4M816.5 163.0V337.5M817.5 218.7V336.8M818.5 150.8V336.8M819.5 242.1V336.7M820.5 213.7V337.6M821.5 253.2V337.4M822.5 275.9V337.5M823.5 239.1V337.6M824.5 150.3V337.4M825.5 235.7V336.8M826.5 272.4V337.4M827.5 228.8V337.1M828.5 243.3V336.9M829.5 260.3V337.4M830.5 299.6V337.2M831.5 220.9V336.9M832.5 218.7V337.2M833.5 230.8V337.6M834.5 254.8V336.9M835.5 156.0V336.2M836.5 279.4V336.5M837.5 253.7V336.4M838.5 312.5V337.7M839.5 293.1V337.0M840.5 278.6V336.5M841.5 253.8V337.0M842.5 222.2V336.3M843.5 232.9V337.7M844.5 148.3V336.9M845.5 160.0V337.2M846.5 154.9V336.9M847.5 309.0V337.0M848.5 235.3V336.4M849.5 157.1V337.2M850.5 220.9V336.3M851.5 152.3V337.6M852.5 240.3V337.3M853.5 230.3V336.6M854.5 240.4V337.5M855.5 184.1V337.4M856.5 194.0V337.3M857.5 212.3V337.0M858.5 247.8V337.1M859.5 160.6V336.9M860.5 217.3V336.6M861.5 224.7V336.7M862.5 159.0V336.7M863.5 269.1V337.0M864.5 163.5V336.8M865.5 171.6V337.5M866.5 240.3V337.2M867.5 164.3V337.7M868.5 169.0V336.6M869.5 220.6V336.8M870.5 224.4V336.9M871.5 318.1V337.6M872.5 171.8V337.6M873.5 209.6V336.6M874.5 174.4V337.4M875.5 236.9V337.7M876.5 161.7V337.0M877.5 155.8V337.5M878.5 170.0V337.2M879.5 264.9V337.5M880.5 277.5V336.7M881.5 208.1V336.7M882.5 279.6V336.7M883.5 159.4V336.3M884.5 227.4V336.7M885.5 255.9V336.3M886.5 160.6V337.1M887.5 293.1V337.8M888.5 323.1V337.7M889.5 222.9V336.8M890.5 173.8V337.4M891.5 230.8V336.9M892.5 259.6V337.6M893.5 154.4V336.5M894.5 288.9V336.8M895.5 242.5V336.3M896.5 259.3V336.4M897.5 246.5V336.5M898.5 268.7V336.4M899.5 254.0V336.8M900.5 242.4V336.9M901.5 233.8V337.1M902.5 294.2V337.1M903.5 295.1V336.2M904.5 256.0V336.5M905.5 272.1V336.6M906.5 257.7V336.7M907.5 159.4V336.5M908.5 317.4V336.5M909.5 174.5V336.8M910.5 205.6V336.9M911.5 280.4V336.7M912.5 309.1V337.4M913.5 211.7V337.0M914.5 167.5V337.1M915.5 283.0V336.3M916.5 261.0V337.7M917.5 230.9V336.5M918.5 161.3V337.4M919.5 216.9V337.7M920.5 241.6V336.4M921.5 289.4V336.3M922.5 173.1V336.8M923.5 276.1V336.6M924.5 258.5V337.6M925.5 239.6V337.3M926.5 162.3V336.3M927.5 223.6V336.9M928.5 212.3V337.6M929.5 242.8V336.7M930.5 162.1V336.3M931.5 234.7V337.2M932.5 146.2V337.1M933.5 170.7V336.9M934.5 257.9V337.0M935.5 238.7V336.8M936.5 266.5V336.9M937.5 230.0V337.4M938.5 165.3V336.2M939.5 159.1V337.1M940.5 251.9V337.6M941.5 290.4V336.9M942.5 170.8V337.1M943.5 314.3V337.1M944.5 223.2V337.5M945.5 257.3V336.6M946.5 158.5V337.2M947.5 171.4V336.9M948.5 242.7V336.5M949.5 285.0V337.4M950.5 253.2V336.9M951.5 327.7V337.4M952.5 154.7V336.7M953.5 236.9V336.5M954.5 274.2V337.4M955.5 261.9V336.8M956.5 247.2V336.9M957.5 154.4V336.3M958.5 231.1V336.5M959.5 297.2V337.6M960.5 268.2V337.1M961.5 156.8V337.4M962.5 265.8V336.7M963.5 282.6V336.6M964.5 238.7V336.9M965.5 168.4V337.1M966.5 157.7V337.4M967.5 253.5V337.2M968.5 257.2V337.3M969.5 276.2V337.3M970.5 163.7V337.5M971.5 268.7V337.7M972.5 241.6V337.5M973.5 265.1V337.1M974.5 255.1V337.2M975.5 296.3V336.6M976.5 314.1V337.2M977.5 253.2V337.2M978.5 169.5V337.3M979.5 306.4V337.1M980.5 270.7V336.2M981.5 271.1V337.3M982.5 174.5V337.5M983.5 237.9V336.8M984.5 163.2V336.8M985.5 252.2V336.2M986.5 235.1V337.5M987.5 280.8V336.8M988.5 252.0V336.6M989.5 239.2V336.2M990.5 169.6V336.9M991.5 148.9V337.2M992.5 265.2V337.5M993.5 175.7V337.3M994.5 229.9V337.4M995.5 176.6V337.1M996.5 163.1V337.1M997.5 260.6V337.6M998.5 224.3V337.5M999.5 242.9V337.4M1000.5 253.9V336.9M1001.5 254.5V336.7M1002.5 172.4V337.0M1003.5 268.2V336.6M1004.5 320.3V336.3M1005.5 165.2V337.1M1006.5 240.8V336.4M1007.5 308.6V337.1M1008.5 316.9V336.4M1009.5 165.5V337.5M1010.5 241.6V337.5M1011.5 168.6V337.6M1012.5 165.2V336.9M1013.5 229.9V337.4M1014.5 227.4V337.7M1015.5 287.9V336.5M1016.5 290.1V336.7M1017.5 168.2V336.4M1018.5 250.7V336.3M1019.5 306.4V336.6M1020.5 170.5V337.1M1021.5 304.7V336.2M1022.5 245.5V337.1M1023.5 226.7V337.7M1024.5 275.7V337.8M1025.5 176.3V336.2M1026.5 212.7V337.5M1027.5 292.7V336.7M1028.5 238.4V336.8M1029.5 294.3V337.2M1030.5 329.2V336.7M1031.5 247.0V336.2M1032.5 321.0V336.6M1033.5 175.3V337.0M1034.5 243.8V337.5M1035.5 286.5V336.7M1036.5 244.9V337.1M1037.5 259.3V336.8M1038.5 274.2V336.3M1039.5 247.6V337.5M1040.5 289.9V337.5M1041.5 285.6V337.3M1042.5 175.9V336.6M1043.5 253.2V336.4M1044.5 180.1V337.0M1045.5 249.7V337.6M1046.5 170.4V337.3M1047.5 274.0V336.3M1048.5 305.9V337.5M1049.5 305.5V337.4M1050.5 255.3V337.7M1051.5 237.0V336.2M1052.5 305.7V337.7M1053.5 256.9V337.8M1054.5 285.0V336.3M1055.5 241.1V337.3" stroke="#000" stroke-width="1" fill="none" shape-rendering="crispEdges"/><rect x="126.80" y="227.6" width="36.8" height="9.2" fill="#fff" stroke="#000" stroke-width="2.3"/><rect x="186.55" y="227.6" width="36.8" height="9.2" fill="#fff" stroke="#000" stroke-width="2.3"/><rect x="246.30" y="227.6" width="36.8" height="9.2" fill="#fff" stroke="#000" stroke-width="2.3"/><rect x="306.05" y="227.6" width="36.8" height="9.2" fill="#fff" stroke="#000" stroke-width="2.3"/><rect x="365.80" y="227.6" width="36.8" height="9.2" fill="#fff" stroke="#000" stroke-width="2.3"/><rect x="425.55" y="227.6" width="36.8" height="9.2" fill="#fff" stroke="#000" stroke-width="2.3"/><rect x="485.30" y="227.6" width="36.8" height="9.2" fill="#fff" stroke="#000" stroke-width="2.3"/><rect x="545.05" y="227.6" width="36.8" height="9.2" fill="#fff" stroke="#000" stroke-width="2.3"/><rect x="604.80" y="227.6" width="36.8" height="9.2" fill="#fff" stroke="#000" stroke-width="2.3"/><rect x="664.55" y="227.6" width="36.8" height="9.2" fill="#fff" stroke="#000" stroke-width="2.3"/><rect x="724.30" y="227.6" width="36.8" height="9.2" fill="#fff" stroke="#000" stroke-width="2.3"/><rect x="784.05" y="227.6" width="36.8" height="9.2" fill="#fff" stroke="#000" stroke-width="2.3"/><rect x="843.80" y="227.6" width="36.8" height="9.2" fill="#fff" stroke="#000" stroke-width="2.3"/><rect x="903.55" y="227.6" width="36.8" height="9.2" fill="#fff" stroke="#000" stroke-width="2.3"/><rect x="963.30" y="227.6" width="36.8" height="9.2" fill="#fff" stroke="#000" stroke-width="2.3"/><rect x="1023.05" y="227.6" width="36.8" height="9.2" fill="#fff" stroke="#000" stroke-width="2.3"/><text x="75.50" y="329.50" font-size="28" text-anchor="start" font-weight="normal" stroke="#000" stroke-width="0.5">∫</text><text x="84.00" y="333.00" font-size="27" text-anchor="start" font-weight="normal" >C</text><text x="102.00" y="333.00" font-size="22" text-anchor="start" font-weight="normal" >4</text><rect x="946.8" y="352" width="109" height="4" fill="#000"/><text x="1002.00" y="382.40" font-size="24" text-anchor="middle" font-weight="normal" >10 min</text><line x1="156.70" y1="514.25" x2="156.70" y2="833.98" stroke="#000" stroke-width="2.5"/><line x1="147.00" y1="833.98" x2="562.75" y2="833.98" stroke="#000" stroke-width="2.5"/><text x="131.00" y="844.48" font-size="31.5" text-anchor="end" font-weight="normal" >-20</text><line x1="147.00" y1="780.90" x2="156.70" y2="780.90" stroke="#000" stroke-width="2.5"/><text x="131.00" y="791.40" font-size="31.5" text-anchor="end" font-weight="normal" >0</text><line x1="147.00" y1="727.82" x2="156.70" y2="727.82" stroke="#000" stroke-width="2.5"/><text x="131.00" y="738.32" font-size="31.5" text-anchor="end" font-weight="normal" >20</text><line x1="147.00" y1="674.74" x2="156.70" y2="674.74" stroke="#000" stroke-width="2.5"/><text x="131.00" y="685.24" font-size="31.5" text-anchor="end" font-weight="normal" >40</text><line x1="147.00" y1="621.66" x2="156.70" y2="621.66" stroke="#000" stroke-width="2.5"/><text x="131.00" y="632.16" font-size="31.5" text-anchor="end" font-weight="normal" >60</text><line x1="147.00" y1="568.58" x2="156.70" y2="568.58" stroke="#000" stroke-width="2.5"/><text x="131.00" y="579.08" font-size="31.5" text-anchor="end" font-weight="normal" >80</text><line x1="147.00" y1="515.50" x2="156.70" y2="515.50" stroke="#000" stroke-width="2.5"/><text x="131.00" y="526.00" font-size="31.5" text-anchor="end" font-weight="normal" >100</text><line x1="156.70" y1="833.98" x2="156.70" y2="843.98" stroke="#000" stroke-width="2.5"/><text x="156.70" y="880.90" font-size="31.5" text-anchor="middle" font-weight="normal" >0</text><line x1="207.30" y1="833.98" x2="207.30" y2="843.98" stroke="#000" stroke-width="2.5"/><text x="207.30" y="880.90" font-size="31.5" text-anchor="middle" font-weight="normal" >5</text><line x1="257.90" y1="833.98" x2="257.90" y2="843.98" stroke="#000" stroke-width="2.5"/><text x="257.90" y="880.90" font-size="31.5" text-anchor="middle" font-weight="normal" >10</text><line x1="308.50" y1="833.98" x2="308.50" y2="843.98" stroke="#000" stroke-width="2.5"/><text x="308.50" y="880.90" font-size="31.5" text-anchor="middle" font-weight="normal" >15</text><line x1="359.10" y1="833.98" x2="359.10" y2="843.98" stroke="#000" stroke-width="2.5"/><text x="359.10" y="880.90" font-size="31.5" text-anchor="middle" font-weight="normal" >20</text><line x1="409.70" y1="833.98" x2="409.70" y2="843.98" stroke="#000" stroke-width="2.5"/><text x="409.70" y="880.90" font-size="31.5" text-anchor="middle" font-weight="normal" >25</text><line x1="460.30" y1="833.98" x2="460.30" y2="843.98" stroke="#000" stroke-width="2.5"/><text x="460.30" y="880.90" font-size="31.5" text-anchor="middle" font-weight="normal" >30</text><line x1="510.90" y1="833.98" x2="510.90" y2="843.98" stroke="#000" stroke-width="2.5"/><text x="510.90" y="880.90" font-size="31.5" text-anchor="middle" font-weight="normal" >35</text><line x1="561.50" y1="833.98" x2="561.50" y2="843.98" stroke="#000" stroke-width="2.5"/><text x="561.50" y="880.90" font-size="31.5" text-anchor="middle" font-weight="normal" >40</text><text x="355.00" y="926.40" font-size="31.5" text-anchor="middle" font-weight="normal" >Time (min)</text><text transform="translate(25.5,675) rotate(-90)" font-size="31.5" text-anchor="middle">Percent change in</text><text transform="translate(62.7,677) rotate(-90)" font-size="31.5" text-anchor="middle">burst amplitude (%)</text><text x="234.50" y="488.90" font-size="31.5" text-anchor="middle" font-weight="normal" >DAMGO</text><rect x="160.6" y="496.7" width="149.4" height="4" fill="#000"/><text x="5.10" y="475.00" font-size="44" text-anchor="start" font-weight="bold" >B</text><polyline points="156.70,780.90 308.50,809.03 510.90,809.03" fill="none" stroke="#000" stroke-width="2.5" stroke-linejoin="round"/><polyline points="156.70,780.90 308.50,665.19 510.90,677.39" fill="none" stroke="#000" stroke-width="2.5" stroke-linejoin="round"/><line x1="308.50" y1="809.03" x2="308.50" y2="785.94" stroke="#000" stroke-width="2.3"/><line x1="302.50" y1="785.94" x2="314.50" y2="785.94" stroke="#000" stroke-width="2.5"/><line x1="510.90" y1="809.03" x2="510.90" y2="776.39" stroke="#000" stroke-width="2.3"/><line x1="504.90" y1="776.39" x2="516.90" y2="776.39" stroke="#000" stroke-width="2.5"/><line x1="308.50" y1="665.19" x2="308.50" y2="539.65" stroke="#000" stroke-width="2.3"/><line x1="302.50" y1="539.65" x2="314.50" y2="539.65" stroke="#000" stroke-width="2.5"/><line x1="510.90" y1="677.39" x2="510.90" y2="543.10" stroke="#000" stroke-width="2.3"/><line x1="504.90" y1="543.10" x2="516.90" y2="543.10" stroke="#000" stroke-width="2.5"/><rect x="147.70" y="771.90" width="18" height="18" fill="#fff" stroke="#000" stroke-width="1.5"/><rect x="299.50" y="800.03" width="18" height="18" fill="#fff" stroke="#000" stroke-width="1.5"/><rect x="501.90" y="800.03" width="18" height="18" fill="#fff" stroke="#000" stroke-width="1.5"/><circle cx="156.70" cy="780.90" r="8.9" fill="#9dc3e6" stroke="#111" stroke-width="1.3"/><circle cx="308.50" cy="665.19" r="8.9" fill="#9dc3e6" stroke="#111" stroke-width="1.3"/><circle cx="510.90" cy="677.39" r="8.9" fill="#9dc3e6" stroke="#111" stroke-width="1.3"/><path d="M308.71 506.00L303.10 535.00M317.40 506.00L311.80 535.00M300.70 516.00H319.90M300.70 524.79H319.90" stroke="#000" stroke-width="2.5" fill="none"/><path d="M511.73 508.10L506.04 536.90M520.57 508.10L514.87 536.90M503.60 518.04H523.10M503.60 526.76H523.10" stroke="#000" stroke-width="2.5" fill="none"/><path transform="translate(533.00,667.40) scale(1.0)" d="M0,0 C-1.1,-3 -2.3,-5 -2.3,-7.4 A2.3,2.3 0 0 1 2.3,-7.4 C2.3,-5 1.1,-3 0,0 ZM0,0 C-3,-0.9 -4.8,-2.1 -6.5,-2.1 A2.1,2.1 0 0 0 -6.5,2.1 C-4.8,2.1 -3,0.9 0,0 ZM0,0 C3,-0.9 4.8,-2.1 6.5,-2.1 A2.1,2.1 0 0 1 6.5,2.1 C4.8,2.1 3,0.9 0,0 ZM-0.6,0.5 C-0.9,2.5 -1.9,4 -1.9,6 C-1.9,9 -0.9,14 -0.75,27.2 L0.75,27.2 C0.9,14 1.9,9 1.9,6 C1.9,4 0.9,2.5 0.6,0.5 Z" fill="#000"/><line x1="803.00" y1="514.07" x2="803.00" y2="833.22" stroke="#000" stroke-width="2.5"/><line x1="793.30" y1="833.22" x2="1191.85" y2="833.22" stroke="#000" stroke-width="2.5"/><text x="776.00" y="843.72" font-size="31.5" text-anchor="end" font-weight="normal" >-80</text><line x1="793.30" y1="769.64" x2="803.00" y2="769.64" stroke="#000" stroke-width="2.5"/><text x="776.00" y="780.14" font-size="31.5" text-anchor="end" font-weight="normal" >-60</text><line x1="793.30" y1="706.06" x2="803.00" y2="706.06" stroke="#000" stroke-width="2.5"/><text x="776.00" y="716.56" font-size="31.5" text-anchor="end" font-weight="normal" >-40</text><line x1="793.30" y1="642.48" x2="803.00" y2="642.48" stroke="#000" stroke-width="2.5"/><text x="776.00" y="652.98" font-size="31.5" text-anchor="end" font-weight="normal" >-20</text><line x1="793.30" y1="578.90" x2="803.00" y2="578.90" stroke="#000" stroke-width="2.5"/><text x="776.00" y="589.40" font-size="31.5" text-anchor="end" font-weight="normal" >0</text><line x1="793.30" y1="515.32" x2="803.00" y2="515.32" stroke="#000" stroke-width="2.5"/><text x="776.00" y="525.82" font-size="31.5" text-anchor="end" font-weight="normal" >20</text><line x1="803.00" y1="833.22" x2="803.00" y2="843.22" stroke="#000" stroke-width="2.5"/><text x="803.00" y="880.90" font-size="31.5" text-anchor="middle" font-weight="normal" >0</text><line x1="851.45" y1="833.22" x2="851.45" y2="843.22" stroke="#000" stroke-width="2.5"/><text x="851.45" y="880.90" font-size="31.5" text-anchor="middle" font-weight="normal" >5</text><line x1="899.90" y1="833.22" x2="899.90" y2="843.22" stroke="#000" stroke-width="2.5"/><text x="899.90" y="880.90" font-size="31.5" text-anchor="middle" font-weight="normal" >10</text><line x1="948.35" y1="833.22" x2="948.35" y2="843.22" stroke="#000" stroke-width="2.5"/><text x="948.35" y="880.90" font-size="31.5" text-anchor="middle" font-weight="normal" >15</text><line x1="996.80" y1="833.22" x2="996.80" y2="843.22" stroke="#000" stroke-width="2.5"/><text x="996.80" y="880.90" font-size="31.5" text-anchor="middle" font-weight="normal" >20</text><line x1="1045.25" y1="833.22" x2="1045.25" y2="843.22" stroke="#000" stroke-width="2.5"/><text x="1045.25" y="880.90" font-size="31.5" text-anchor="middle" font-weight="normal" >25</text><line x1="1093.70" y1="833.22" x2="1093.70" y2="843.22" stroke="#000" stroke-width="2.5"/><text x="1093.70" y="880.90" font-size="31.5" text-anchor="middle" font-weight="normal" >30</text><line x1="1142.15" y1="833.22" x2="1142.15" y2="843.22" stroke="#000" stroke-width="2.5"/><text x="1142.15" y="880.90" font-size="31.5" text-anchor="middle" font-weight="normal" >35</text><line x1="1190.60" y1="833.22" x2="1190.60" y2="843.22" stroke="#000" stroke-width="2.5"/><text x="1190.60" y="880.90" font-size="31.5" text-anchor="middle" font-weight="normal" >40</text><text x="993.40" y="925.50" font-size="31.5" text-anchor="middle" font-weight="normal" >Time (min)</text><text transform="translate(684.6,675.5) rotate(-90)" font-size="31.5" text-anchor="middle">Percent change in</text><text transform="translate(721.6,677) rotate(-90)" font-size="31.5" text-anchor="middle">burst frequency (%)</text><text x="879.30" y="489.20" font-size="31.5" text-anchor="middle" font-weight="normal" >DAMGO</text><rect x="804.4" y="497.3" width="149.70000000000005" height="4" fill="#000"/><text x="652.70" y="508.80" font-size="44" text-anchor="start" font-weight="bold" >C</text><polyline points="803.00,578.90 948.35,551.88 1142.15,581.76" fill="none" stroke="#000" stroke-width="2.5" stroke-linejoin="round"/><polyline points="803.00,578.90 948.35,699.38 1142.15,638.03" fill="none" stroke="#000" stroke-width="2.5" stroke-linejoin="round"/><line x1="948.35" y1="551.88" x2="948.35" y2="526.45" stroke="#000" stroke-width="2.3"/><line x1="942.35" y1="526.45" x2="954.35" y2="526.45" stroke="#000" stroke-width="2.5"/><line x1="1142.15" y1="581.76" x2="1142.15" y2="524.86" stroke="#000" stroke-width="2.3"/><line x1="1136.15" y1="524.86" x2="1148.15" y2="524.86" stroke="#000" stroke-width="2.5"/><line x1="948.35" y1="699.38" x2="948.35" y2="817.32" stroke="#000" stroke-width="2.3"/><line x1="942.35" y1="817.32" x2="954.35" y2="817.32" stroke="#000" stroke-width="2.5"/><line x1="1142.15" y1="638.03" x2="1142.15" y2="703.83" stroke="#000" stroke-width="2.3"/><line x1="1136.15" y1="703.83" x2="1148.15" y2="703.83" stroke="#000" stroke-width="2.5"/><rect x="794.00" y="569.90" width="18" height="18" fill="#fff" stroke="#000" stroke-width="1.5"/><rect x="939.35" y="542.88" width="18" height="18" fill="#fff" stroke="#000" stroke-width="1.5"/><rect x="1133.15" y="572.76" width="18" height="18" fill="#fff" stroke="#000" stroke-width="1.5"/><circle cx="803.00" cy="578.90" r="8.9" fill="#9dc3e6" stroke="#111" stroke-width="1.3"/><circle cx="948.35" cy="699.38" r="8.9" fill="#9dc3e6" stroke="#111" stroke-width="1.3"/><circle cx="1142.15" cy="638.03" r="8.9" fill="#9dc3e6" stroke="#111" stroke-width="1.3"/><path d="M946.96 658.40L942.09 683.80M954.53 658.40L949.65 683.80M940.00 667.16H956.70M940.00 674.86H956.70" stroke="#000" stroke-width="2.5" fill="none"/><path transform="translate(1164.50,628.40) scale(1.0)" d="M0,0 C-1.1,-3 -2.3,-5 -2.3,-7.4 A2.3,2.3 0 0 1 2.3,-7.4 C2.3,-5 1.1,-3 0,0 ZM0,0 C-3,-0.9 -4.8,-2.1 -6.5,-2.1 A2.1,2.1 0 0 0 -6.5,2.1 C-4.8,2.1 -3,0.9 0,0 ZM0,0 C3,-0.9 4.8,-2.1 6.5,-2.1 A2.1,2.1 0 0 1 6.5,2.1 C4.8,2.1 3,0.9 0,0 ZM-0.6,0.5 C-0.9,2.5 -1.9,4 -1.9,6 C-1.9,9 -0.9,14 -0.75,27.2 L0.75,27.2 C0.9,14 1.9,9 1.9,6 C1.9,4 0.9,2.5 0.6,0.5 Z" fill="#000"/><line x1="156.10" y1="1055.05" x2="156.10" y2="1378.50" stroke="#000" stroke-width="2.5"/><line x1="146.40" y1="1378.50" x2="558.55" y2="1378.50" stroke="#000" stroke-width="2.5"/><text x="129.00" y="1389.00" font-size="31.5" text-anchor="end" font-weight="normal" >-60</text><line x1="146.40" y1="1297.95" x2="156.10" y2="1297.95" stroke="#000" stroke-width="2.5"/><text x="129.00" y="1308.45" font-size="31.5" text-anchor="end" font-weight="normal" >-40</text><line x1="146.40" y1="1217.40" x2="156.10" y2="1217.40" stroke="#000" stroke-width="2.5"/><text x="129.00" y="1227.90" font-size="31.5" text-anchor="end" font-weight="normal" >-20</text><line x1="146.40" y1="1136.85" x2="156.10" y2="1136.85" stroke="#000" stroke-width="2.5"/><text x="129.00" y="1147.35" font-size="31.5" text-anchor="end" font-weight="normal" >0</text><line x1="146.40" y1="1056.30" x2="156.10" y2="1056.30" stroke="#000" stroke-width="2.5"/><text x="129.00" y="1066.80" font-size="31.5" text-anchor="end" font-weight="normal" >20</text><line x1="156.10" y1="1378.50" x2="156.10" y2="1388.50" stroke="#000" stroke-width="2.5"/><text x="156.10" y="1425.20" font-size="31.5" text-anchor="middle" font-weight="normal" >0</text><line x1="206.25" y1="1378.50" x2="206.25" y2="1388.50" stroke="#000" stroke-width="2.5"/><text x="206.25" y="1425.20" font-size="31.5" text-anchor="middle" font-weight="normal" >5</text><line x1="256.40" y1="1378.50" x2="256.40" y2="1388.50" stroke="#000" stroke-width="2.5"/><text x="256.40" y="1425.20" font-size="31.5" text-anchor="middle" font-weight="normal" >10</text><line x1="306.55" y1="1378.50" x2="306.55" y2="1388.50" stroke="#000" stroke-width="2.5"/><text x="306.55" y="1425.20" font-size="31.5" text-anchor="middle" font-weight="normal" >15</text><line x1="356.70" y1="1378.50" x2="356.70" y2="1388.50" stroke="#000" stroke-width="2.5"/><text x="356.70" y="1425.20" font-size="31.5" text-anchor="middle" font-weight="normal" >20</text><line x1="406.85" y1="1378.50" x2="406.85" y2="1388.50" stroke="#000" stroke-width="2.5"/><text x="406.85" y="1425.20" font-size="31.5" text-anchor="middle" font-weight="normal" >25</text><line x1="457.00" y1="1378.50" x2="457.00" y2="1388.50" stroke="#000" stroke-width="2.5"/><text x="457.00" y="1425.20" font-size="31.5" text-anchor="middle" font-weight="normal" >30</text><line x1="507.15" y1="1378.50" x2="507.15" y2="1388.50" stroke="#000" stroke-width="2.5"/><text x="507.15" y="1425.20" font-size="31.5" text-anchor="middle" font-weight="normal" >35</text><line x1="557.30" y1="1378.50" x2="557.30" y2="1388.50" stroke="#000" stroke-width="2.5"/><text x="557.30" y="1425.20" font-size="31.5" text-anchor="middle" font-weight="normal" >40</text><text x="350.70" y="1471.60" font-size="31.5" text-anchor="middle" font-weight="normal" >Time (min)</text><text transform="translate(25.1,1227) rotate(-90)" font-size="31.5" text-anchor="middle">Percent change in</text><text transform="translate(63.1,1226.9) rotate(-90)" font-size="31.5" text-anchor="middle">burst minute activity (%)</text><text x="233.20" y="1034.20" font-size="31.5" text-anchor="middle" font-weight="normal" >DAMGO</text><rect x="159" y="1042.8" width="149.2" height="4" fill="#000"/><text x="5.20" y="1024.80" font-size="44" text-anchor="start" font-weight="bold" >D</text><polyline points="156.10,1136.85 306.55,1156.18 507.15,1202.50" fill="none" stroke="#000" stroke-width="2.5" stroke-linejoin="round"/><polyline points="156.10,1136.85 306.55,1249.62 507.15,1169.07" fill="none" stroke="#000" stroke-width="2.5" stroke-linejoin="round"/><line x1="306.55" y1="1156.18" x2="306.55" y2="1118.73" stroke="#000" stroke-width="2.3"/><line x1="300.55" y1="1118.73" x2="312.55" y2="1118.73" stroke="#000" stroke-width="2.5"/><line x1="306.55" y1="1156.18" x2="306.55" y2="1193.64" stroke="#000" stroke-width="2.3"/><line x1="300.55" y1="1193.64" x2="312.55" y2="1193.64" stroke="#000" stroke-width="2.5"/><line x1="507.15" y1="1202.50" x2="507.15" y2="1136.85" stroke="#000" stroke-width="2.3"/><line x1="501.15" y1="1136.85" x2="513.15" y2="1136.85" stroke="#000" stroke-width="2.5"/><line x1="507.15" y1="1202.50" x2="507.15" y2="1269.76" stroke="#000" stroke-width="2.3"/><line x1="501.15" y1="1269.76" x2="513.15" y2="1269.76" stroke="#000" stroke-width="2.5"/><line x1="306.55" y1="1249.62" x2="306.55" y2="1144.90" stroke="#000" stroke-width="2.3"/><line x1="300.55" y1="1144.90" x2="312.55" y2="1144.90" stroke="#000" stroke-width="2.5"/><line x1="306.55" y1="1249.62" x2="306.55" y2="1355.54" stroke="#000" stroke-width="2.3"/><line x1="300.55" y1="1355.54" x2="312.55" y2="1355.54" stroke="#000" stroke-width="2.5"/><line x1="507.15" y1="1169.07" x2="507.15" y2="1089.33" stroke="#000" stroke-width="2.3"/><line x1="501.15" y1="1089.33" x2="513.15" y2="1089.33" stroke="#000" stroke-width="2.5"/><line x1="507.15" y1="1169.07" x2="507.15" y2="1248.41" stroke="#000" stroke-width="2.3"/><line x1="501.15" y1="1248.41" x2="513.15" y2="1248.41" stroke="#000" stroke-width="2.5"/><rect x="147.10" y="1127.85" width="18" height="18" fill="#fff" stroke="#000" stroke-width="1.5"/><rect x="297.55" y="1147.18" width="18" height="18" fill="#fff" stroke="#000" stroke-width="1.5"/><rect x="498.15" y="1193.50" width="18" height="18" fill="#fff" stroke="#000" stroke-width="1.5"/><circle cx="156.10" cy="1136.85" r="8.9" fill="#9dc3e6" stroke="#111" stroke-width="1.3"/><circle cx="306.55" cy="1249.62" r="8.9" fill="#9dc3e6" stroke="#111" stroke-width="1.3"/><circle cx="507.15" cy="1169.07" r="8.9" fill="#9dc3e6" stroke="#111" stroke-width="1.3"/><rect x="661.65" y="976.65" width="487.2" height="129.2" fill="none" stroke="#000" stroke-width="3.5"/><rect x="678.5" y="994.5" width="20" height="20" fill="#fff" stroke="#000" stroke-width="2"/><circle cx="688.4" cy="1044.3" r="11" fill="#9dc3e6" stroke="#000" stroke-width="2"/><text x="710.80" y="1014.20" font-size="28.8" text-anchor="start" font-weight="normal" xml:space="preserve">Riluzole 10 μM (n=8)</text><text x="710.80" y="1054.90" font-size="28.8" text-anchor="start" font-weight="normal" xml:space="preserve">Riluzole 10 μM  /  DAMGO 50 nM</text><text x="710.80" y="1089.50" font-size="28.8" text-anchor="start" font-weight="normal" >(n=6)</text></svg>
</body></html>
